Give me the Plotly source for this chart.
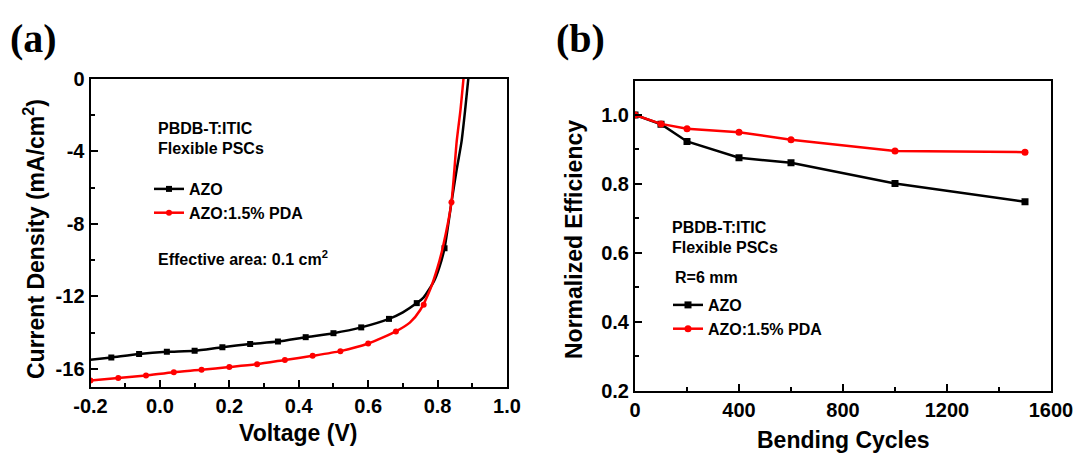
import plotly.graph_objects as go

# ---------------- data: panel (a) J-V curves ----------------
azo_v = [-0.20, -0.14, -0.06, 0.02, 0.10, 0.18, 0.26, 0.34, 0.42, 0.50, 0.58, 0.66,
         0.70, 0.74, 0.76, 0.79, 0.805, 0.82, 0.84, 0.855, 0.869, 0.88, 0.89]
azo_j = [-15.50, -15.37, -15.18, -15.06, -15.00, -14.80, -14.63, -14.49, -14.25, -14.03,
         -13.71, -13.24, -12.88, -12.37, -12.05, -11.15, -10.40, -9.34, -6.80, -5.00,
         -3.46, -1.60, 0.30]
azo_mk_v = [-0.14, -0.06, 0.02, 0.10, 0.18, 0.26, 0.34, 0.42, 0.50, 0.58, 0.66, 0.74, 0.82]
azo_mk_j = [-15.37, -15.18, -15.06, -15.00, -14.80, -14.63, -14.49, -14.25, -14.03,
            -13.71, -13.24, -12.37, -9.34]

pda_v = [-0.20, -0.12, -0.04, 0.04, 0.12, 0.20, 0.28, 0.36, 0.44, 0.52, 0.60, 0.68,
         0.72, 0.75, 0.78, 0.80, 0.815, 0.84, 0.855, 0.866, 0.876]
pda_j = [-16.64, -16.51, -16.36, -16.18, -16.05, -15.90, -15.74, -15.51, -15.28, -15.02,
         -14.60, -13.93, -13.45, -12.75, -11.55, -10.40, -9.30, -6.80, -3.46, -1.70, 0.30]
pda_mk_v = [-0.20, -0.12, -0.04, 0.04, 0.12, 0.20, 0.28, 0.36, 0.44, 0.52, 0.60, 0.68, 0.76, 0.84]
pda_mk_j = [-16.64, -16.51, -16.36, -16.18, -16.05, -15.90, -15.74, -15.51, -15.28,
            -15.02, -14.60, -13.93, -12.46, -6.80]

# ---------------- data: panel (b) bending ----------------
cycles = [0, 100, 200, 400, 600, 1000, 1500]
azo_eff = [1.000, 0.973, 0.923, 0.876, 0.861, 0.801, 0.748]
pda_eff = [1.000, 0.974, 0.960, 0.950, 0.928, 0.895, 0.892]

# ---------------- tick labels ----------------
a_xvals = [-0.2, 0.0, 0.2, 0.4, 0.6, 0.8, 1.0]
a_xtext = ["-0.2", "0.0", "0.2", "0.4", "0.6", "0.8", "1.0"]
a_yvals = [0, -4, -8, -12, -16]
a_ytext = ["0", "-4", "-8", "-12", "-16"]
b_xvals = [0, 400, 800, 1200, 1600]
b_xtext = ["0", "400", "800", "1200", "1600"]
b_yvals = [0.2, 0.4, 0.6, 0.8, 1.0]
b_ytext = ["0.2", "0.4", "0.6", "0.8", "1.0"]

W, H = 1080, 455
BLACK = "#000000"
RED = "#FF0000"
FONT = "Liberation Sans"


def pxx(x):
    return x / W


def pxy(y):
    return 1 - y / H


fig = go.Figure()

# panel (a)
fig.add_trace(go.Scatter(x=azo_v, y=azo_j, mode="lines", line=dict(color=BLACK, width=2.5, shape="spline", smoothing=0.6),
                         xaxis="x", yaxis="y", showlegend=False, hoverinfo="skip"))
fig.add_trace(go.Scatter(x=azo_mk_v, y=azo_mk_j, mode="markers", marker=dict(color=BLACK, symbol="square", size=6),
                         xaxis="x", yaxis="y", showlegend=False))
fig.add_trace(go.Scatter(x=pda_v, y=pda_j, mode="lines", line=dict(color=RED, width=2.5, shape="spline", smoothing=0.6),
                         xaxis="x", yaxis="y", showlegend=False, hoverinfo="skip"))
fig.add_trace(go.Scatter(x=pda_mk_v, y=pda_mk_j, mode="markers", marker=dict(color=RED, symbol="circle", size=6),
                         xaxis="x", yaxis="y", showlegend=False))
# legend entries for (a)
fig.add_trace(go.Scatter(x=[None], y=[None], mode="lines+markers", name="AZO",
                         line=dict(color=BLACK, width=2.5), marker=dict(color=BLACK, symbol="square", size=6),
                         xaxis="x", yaxis="y", legend="legend"))
fig.add_trace(go.Scatter(x=[None], y=[None], mode="lines+markers", name="AZO:1.5% PDA",
                         line=dict(color=RED, width=2.5), marker=dict(color=RED, symbol="circle", size=6),
                         xaxis="x", yaxis="y", legend="legend"))

# panel (b)
fig.add_trace(go.Scatter(x=cycles, y=azo_eff, mode="lines+markers", name="AZO",
                         line=dict(color=BLACK, width=2.5), marker=dict(color=BLACK, symbol="square", size=7),
                         xaxis="x2", yaxis="y2", legend="legend2"))
fig.add_trace(go.Scatter(x=cycles, y=pda_eff, mode="lines+markers", name="AZO:1.5% PDA",
                         line=dict(color=RED, width=2.5), marker=dict(color=RED, symbol="circle", size=7),
                         xaxis="x2", yaxis="y2", legend="legend2"))

axis_common = dict(showline=True, linecolor=BLACK, linewidth=2, mirror=True, ticks="inside",
                   ticklen=7, tickwidth=2, tickcolor=BLACK, showgrid=False, zeroline=False,
                   tickmode="array", tickfont=dict(family=FONT, size=20, color=BLACK, weight="bold"),
                   fixedrange=True, automargin=False)

fig.update_layout(
    width=W, height=H,
    margin=dict(l=0, r=0, t=0, b=0, pad=0, autoexpand=False),
    paper_bgcolor="white", plot_bgcolor="white",
    font=dict(family=FONT, color=BLACK),
    xaxis=dict(axis_common, domain=[pxx(90.5), pxx(507)], range=[-0.2, 1.0], anchor="y",
               tickvals=a_xvals, ticktext=a_xtext,
               minor=dict(ticks="inside", ticklen=4, tickwidth=2, tickcolor=BLACK, dtick=0.1, tick0=0)),
    yaxis=dict(axis_common, domain=[pxy(387), pxy(79)], range=[-17, 0], anchor="x",
               tickvals=a_yvals, ticktext=a_ytext,
               minor=dict(ticks="inside", ticklen=4, tickwidth=2, tickcolor=BLACK, dtick=2, tick0=0)),
    xaxis2=dict(axis_common, domain=[pxx(635), pxx(1051)], range=[0, 1600], anchor="y2",
                tickvals=b_xvals, ticktext=b_xtext,
                minor=dict(ticks="inside", ticklen=4, tickwidth=2, tickcolor=BLACK, dtick=200, tick0=0)),
    yaxis2=dict(axis_common, domain=[pxy(390.5), pxy(80.5)], range=[0.2, 1.1], anchor="x2",
                tickvals=b_yvals, ticktext=b_ytext,
                minor=dict(ticks="inside", ticklen=4, tickwidth=2, tickcolor=BLACK, dtick=0.1, tick0=0)),
    legend=dict(x=pxx(149), y=pxy(172), xanchor="left", yanchor="top", bgcolor="rgba(0,0,0,0)",
                font=dict(family=FONT, size=16, color=BLACK, weight="bold"), tracegroupgap=0),
    legend2=dict(x=pxx(668), y=pxy(288), xanchor="left", yanchor="top", bgcolor="rgba(0,0,0,0)",
                 font=dict(family=FONT, size=16, color=BLACK, weight="bold"), tracegroupgap=0),
)

ann_font = dict(family=FONT, size=16, color=BLACK, weight="bold")
title_font = dict(family=FONT, size=23, color=BLACK, weight="bold")
texts = [
    ("PBDB-T:ITIC", 156, 128), ("Flexible PSCs", 156, 149), ("Effective area: 0.1 cm<sup>2</sup>", 156, 258),
    ("PBDB-T:ITIC", 670, 227), ("Flexible PSCs", 670, 248), ("R=6 mm", 673, 277),
]
for t, x, y in texts:
    fig.add_annotation(text=t, x=pxx(x), y=pxy(y), xref="paper", yref="paper", xanchor="left",
                       yanchor="middle", showarrow=False, font=ann_font)


def centered(text, x, y, font, angle=0):
    fig.add_annotation(text=text, x=pxx(x), y=pxy(y), xref="paper", yref="paper", xanchor="center",
                       yanchor="middle", showarrow=False, textangle=angle, font=font)


# axis titles
centered("Voltage (V)", 298, 433, title_font)
centered("Bending Cycles", 843, 440, title_font)
centered("Current Density (mA/cm<sup>2</sup>)", 34, 239, title_font, -90)
centered("Normalized Efficiency", 574, 240, title_font, -90)

# panel labels
panel_font = dict(family="Liberation Serif", size=40, color=BLACK, weight="bold")
centered("(a)", 33, 38, panel_font)
centered("(b)", 580, 38, panel_font)

fig.write_html("out.html")
